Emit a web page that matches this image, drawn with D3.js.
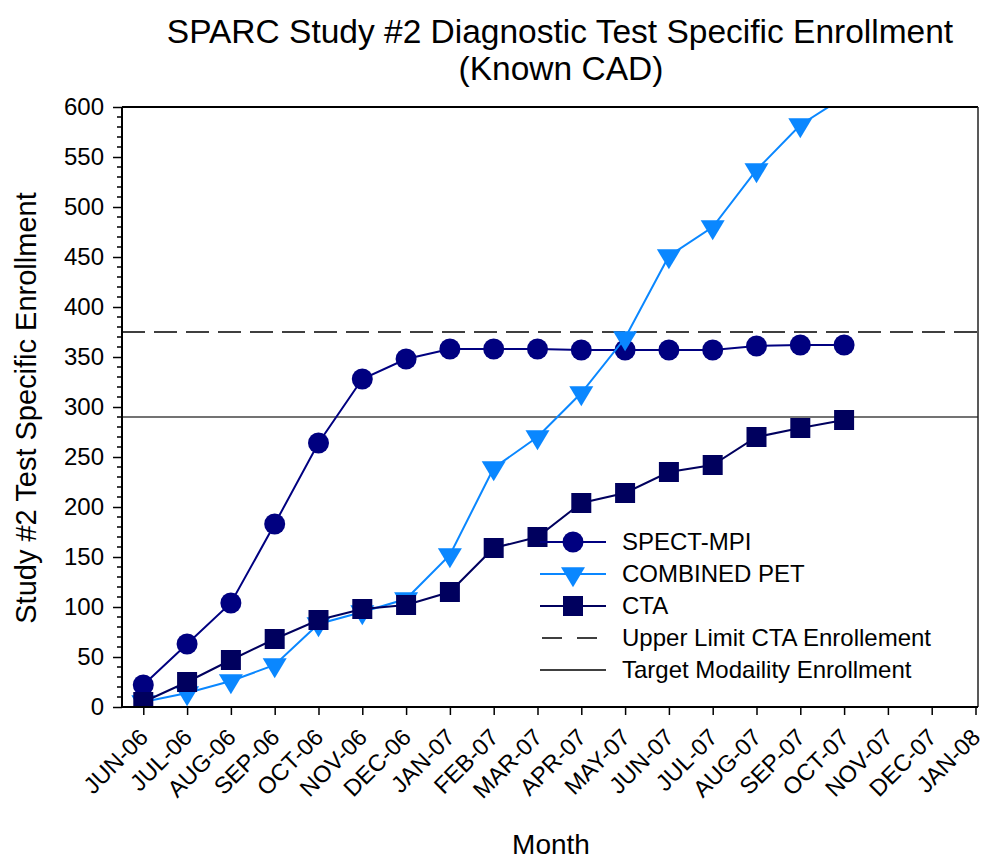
<!DOCTYPE html>
<html>
<head>
<meta charset="utf-8">
<script src="https://cdn.jsdelivr.net/npm/d3@7"></script>
<style>
  html, body { margin: 0; padding: 0; background: #fff; }
  svg { display: block; font-family: "Liberation Sans", Arial, sans-serif; }
</style>
</head>
<body>
<svg id="chart" width="983" height="859"></svg>
<script>
// ---- data ----
const months = ["JUN-06","JUL-06","AUG-06","SEP-06","OCT-06","NOV-06","DEC-06","JAN-07","FEB-07","MAR-07","APR-07","MAY-07","JUN-07","JUL-07","AUG-07","SEP-07","OCT-07","NOV-07","DEC-07","JAN-08"];
const spectMPI    = [22, 63, 104, 183, 264, 328, 348, 358, 358, 358, 357, 357, 357, 357, 361, 362, 362];
const combinedPET = [5, 14, 26, 42, 83, 95, 108, 152, 239, 270, 314, 369, 451, 480, 537, 582, 610];
const cta         = [5, 25, 47, 68, 87, 98, 102, 115, 159, 170, 204, 214, 235, 242, 270, 279, 287];
const upperLimitCTA = 375;
const targetModality = 290;
const yTicks = [0, 50, 100, 150, 200, 250, 300, 350, 400, 450, 500, 550, 600];
const legendLabels = ["SPECT-MPI", "COMBINED PET", "CTA", "Upper Limit CTA Enrollement", "Target Modaility Enrollment"];

// ---- layout ----
const svg = d3.select("#chart");
const L = 122, R = 978, T = 107, B = 707;
const x = d3.scaleLinear().domain([-0.486, 19.057]).range([L, R]);
const y = d3.scaleLinear().domain([0, 600]).range([B, T]);

const cNavy = "#000080", cPET = "#0a87ff", cCTA = "#00005e";
const FONT = "Liberation Sans, Arial, sans-serif";

// title
const title = svg.append("text").attr("text-anchor", "middle").attr("font-size", 33.5).attr("fill", "#000");
title.append("tspan").attr("x", 560).attr("y", 43).text("SPARC Study #2 Diagnostic Test Specific Enrollment");
title.append("tspan").attr("x", 561).attr("y", 80).text("(Known CAD)");

// clip
svg.append("defs").append("clipPath").attr("id", "plotclip")
  .append("rect").attr("x", L).attr("y", T).attr("width", R - L).attr("height", B - T);

// reference lines
svg.append("line").attr("x1", L).attr("x2", R).attr("y1", y(upperLimitCTA)).attr("y2", y(upperLimitCTA))
  .attr("stroke", "#000").attr("stroke-width", 1.5).attr("stroke-dasharray", "23,9");
svg.append("line").attr("x1", L).attr("x2", R).attr("y1", y(targetModality)).attr("y2", y(targetModality))
  .attr("stroke", "#444").attr("stroke-width", 1.5);

// marker shapes
const triPath = (w, h) => `M${-w/2},${-h/3}L${w/2},${-h/3}L0,${2*h/3}Z`;
function drawMarker(g, type, color) {
  if (type === "circle") g.append("circle").attr("r", 10.5).attr("fill", color);
  else if (type === "tri") g.append("path").attr("d", triPath(24, 20)).attr("fill", color);
  else g.append("rect").attr("x", -10).attr("y", -10).attr("width", 20).attr("height", 20).attr("fill", color);
}

const series = [
  { values: spectMPI, color: cNavy, type: "circle" },
  { values: combinedPET, color: cPET, type: "tri" },
  { values: cta, color: cCTA, type: "square" }
];

const plot = svg.append("g").attr("clip-path", "url(#plotclip)");
const line = d3.line().x((d, i) => x(i)).y(d => y(d));
series.forEach(s => {
  plot.append("path").datum(s.values).attr("d", line)
    .attr("fill", "none").attr("stroke", s.color).attr("stroke-width", 2);
  s.values.forEach((v, i) => {
    if (v > 600) return;
    const g = plot.append("g").attr("transform", `translate(${x(i)},${y(v)})`);
    drawMarker(g, s.type, s.color);
  });
});

// frame
svg.append("line").attr("x1", L).attr("x2", R).attr("y1", T).attr("y2", T).attr("stroke", "#000").attr("stroke-width", 2);
svg.append("line").attr("x1", R).attr("x2", R).attr("y1", T).attr("y2", B).attr("stroke", "#222").attr("stroke-width", 1.5);

// y axis
const yAxis = d3.axisLeft(y).tickValues(yTicks).tickSize(9).tickPadding(9);
const ya = svg.append("g").attr("transform", `translate(${L},0)`).call(yAxis);
ya.select(".domain").attr("stroke-width", 2).attr("d", `M-0,${B}V${T}`);
ya.selectAll(".tick line").attr("stroke-width", 1.5);
ya.selectAll(".tick text").attr("font-size", 24).attr("fill", "#000").attr("font-family", FONT);
const minor = d3.range(0, 601, 10).filter(v => v % 50 !== 0);
svg.append("g").selectAll("line").data(minor).join("line")
  .attr("x1", L - 5).attr("x2", L).attr("y1", d => y(d)).attr("y2", d => y(d))
  .attr("stroke", "#000").attr("stroke-width", 1.5);

// x axis
const xAxis = d3.axisBottom(x).tickValues(d3.range(months.length)).tickFormat(i => months[i]).tickSize(8);
const xa = svg.append("g").attr("transform", `translate(0,${B})`).call(xAxis);
xa.select(".domain").attr("stroke-width", 2).attr("d", `M${L},0H${R}`);
xa.selectAll(".tick line").attr("stroke-width", 1.5);
xa.selectAll(".tick text")
  .attr("font-size", 23.5).attr("fill", "#000").attr("font-family", FONT)
  .attr("text-anchor", "end").attr("x", 0).attr("y", 0).attr("dy", "0.35em")
  .attr("transform", "translate(0,26) rotate(-45)");

// axis titles
svg.append("text").attr("transform", `translate(36,${(T + B) / 2 + 1}) rotate(-90)`)
  .attr("text-anchor", "middle").attr("font-size", 29).text("Study #2 Test Specific Enrollment");
svg.append("text").attr("x", 551).attr("y", 854).attr("text-anchor", "middle").attr("font-size", 28).text("Month");

// legend
const lg = svg.append("g");
const rowY = i => 542 + i * 32;
const lx1 = 540, lx2 = 606, lmx = 573, ltx = 622;
series.forEach((s, i) => {
  lg.append("line").attr("x1", lx1).attr("x2", lx2).attr("y1", rowY(i)).attr("y2", rowY(i))
    .attr("stroke", s.color).attr("stroke-width", 2);
  const g = lg.append("g").attr("transform", `translate(${lmx},${rowY(i)})`);
  drawMarker(g, s.type, s.color);
});
lg.append("line").attr("x1", 542).attr("x2", 597).attr("y1", rowY(3)).attr("y2", rowY(3))
  .attr("stroke", "#000").attr("stroke-width", 1.5).attr("stroke-dasharray", "20,15");
lg.append("line").attr("x1", 540).attr("x2", 606).attr("y1", rowY(4)).attr("y2", rowY(4))
  .attr("stroke", "#000").attr("stroke-width", 1.5);
legendLabels.forEach((t, i) => {
  lg.append("text").attr("x", ltx).attr("y", rowY(i)).attr("dy", "0.35em")
    .attr("font-size", 24).attr("fill", "#000").text(t);
});
</script>
</body>
</html>
